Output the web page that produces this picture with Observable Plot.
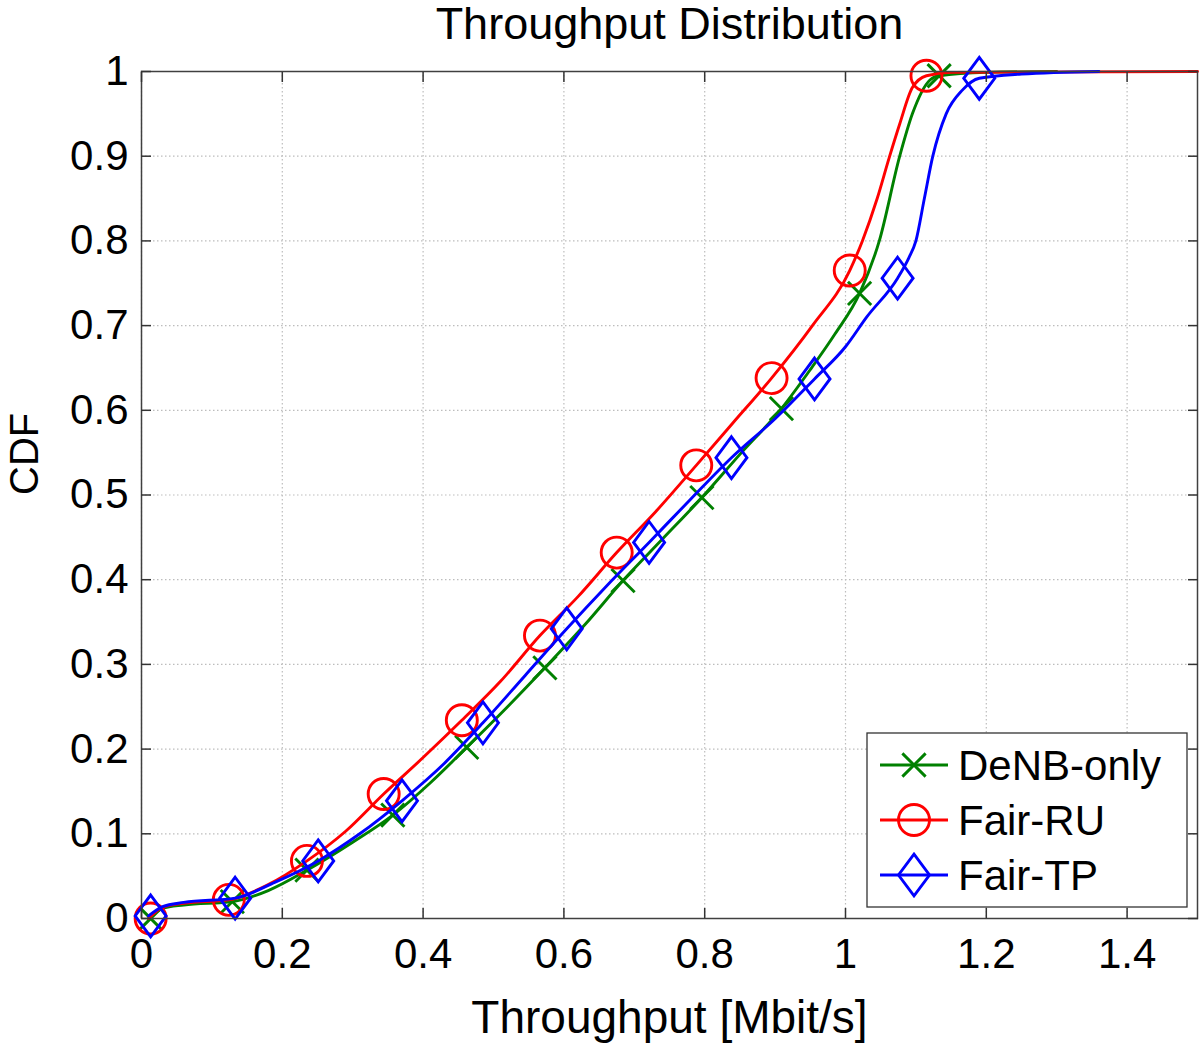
<!DOCTYPE html>
<html>
<head>
<meta charset="utf-8">
<script src="https://cdn.jsdelivr.net/npm/d3@7"></script>
<script src="https://cdn.jsdelivr.net/npm/@observablehq/plot@0.6"></script>
<style>
  html, body { margin: 0; padding: 0; background: #fff; }
</style>
</head>
<body>
<div id="chart"></div>
<script>
// ---- Data ----
const xTicks = [0, 0.2, 0.4, 0.6, 0.8, 1, 1.2, 1.4];
const yTicks = [0, 0.1, 0.2, 0.3, 0.4, 0.5, 0.6, 0.7, 0.8, 0.9, 1];
const seriesNames = ["DeNB-only", "Fair-RU", "Fair-TP"];
const seriesColors = ["#008000", "#ff0000", "#0000ff"];

// DeNB-only curve
const denbX = [0.01, 0.03, 0.06, 0.13, 0.18, 0.235, 0.3, 0.357, 0.41, 0.462, 0.52, 0.573, 0.63, 0.684, 0.74, 0.796, 0.85, 0.909, 0.95, 0.985, 1.02, 1.048, 1.077, 1.095, 1.12, 1.133, 1.2, 1.3];
const denbY = [0, 0.012, 0.016, 0.02, 0.033, 0.057, 0.09, 0.122, 0.16, 0.202, 0.25, 0.296, 0.347, 0.399, 0.448, 0.497, 0.548, 0.602, 0.648, 0.69, 0.738, 0.8, 0.9, 0.95, 0.99, 0.995, 0.999, 1];
const denbMarkX = [0.013, 0.129, 0.235, 0.357, 0.462, 0.573, 0.684, 0.796, 0.909, 1.02, 1.133];
const denbMarkY = [0, 0.02, 0.057, 0.122, 0.202, 0.296, 0.399, 0.497, 0.602, 0.738, 0.995];

// Fair-RU curve
const fairRuX = [0.01, 0.03, 0.06, 0.124, 0.18, 0.235, 0.29, 0.344, 0.4, 0.455, 0.51, 0.566, 0.62, 0.675, 0.73, 0.788, 0.84, 0.895, 0.953, 1.006, 1.024, 1.045, 1.062, 1.077, 1.095, 1.115, 1.15, 1.5];
const fairRuY = [0, 0.013, 0.018, 0.022, 0.04, 0.068, 0.103, 0.147, 0.19, 0.234, 0.28, 0.334, 0.38, 0.432, 0.48, 0.535, 0.585, 0.638, 0.7, 0.765, 0.8, 0.85, 0.898, 0.938, 0.981, 0.995, 0.999, 1];
const fairRuMarkX = [0.013, 0.124, 0.235, 0.344, 0.455, 0.566, 0.675, 0.788, 0.895, 1.006, 1.115];
const fairRuMarkY = [0, 0.022, 0.068, 0.147, 0.234, 0.334, 0.432, 0.535, 0.638, 0.765, 0.995];

// Fair-TP curve
const fairTpX = [0.01, 0.03, 0.06, 0.133, 0.19, 0.251, 0.31, 0.37, 0.43, 0.485, 0.545, 0.604, 0.66, 0.721, 0.78, 0.838, 0.9, 0.956, 1.0, 1.03, 1.074, 1.09, 1.1, 1.112, 1.124, 1.143, 1.166, 1.19, 1.25, 1.36];
const fairTpY = [0.003, 0.014, 0.019, 0.024, 0.043, 0.068, 0.1, 0.139, 0.183, 0.231, 0.287, 0.342, 0.392, 0.444, 0.495, 0.544, 0.59, 0.637, 0.675, 0.71, 0.756, 0.78, 0.8, 0.85, 0.9, 0.95, 0.978, 0.992, 0.997, 1];
const fairTpMarkX = [0.013, 0.133, 0.251, 0.37, 0.485, 0.604, 0.721, 0.838, 0.956, 1.074, 1.19];
const fairTpMarkY = [0.003, 0.024, 0.068, 0.139, 0.231, 0.342, 0.444, 0.544, 0.637, 0.756, 0.992];

// ---- Marker symbols (MATLAB-like) ----
const symTimes = { draw(ctx, size) { const r = Math.sqrt(size / Math.PI) * 0.75;
  ctx.moveTo(-r, -r); ctx.lineTo(r, r); ctx.moveTo(r, -r); ctx.lineTo(-r, r); } };
const symCircle = { draw(ctx, size) { const r = Math.sqrt(size / Math.PI);
  ctx.moveTo(r, 0); ctx.arc(0, 0, r, 0, 2 * Math.PI); } };
const symDiamond = { draw(ctx, size) { const r = Math.sqrt(size / Math.PI);
  const h = r * 1.35; ctx.moveTo(0, -h); ctx.lineTo(r, 0); ctx.lineTo(0, h); ctx.lineTo(-r, 0); ctx.closePath(); } };
const symbols = [symTimes, symCircle, symDiamond];

const series = [
  {x: denbX, y: denbY, mx: denbMarkX, my: denbMarkY},
  {x: fairRuX, y: fairRuY, mx: fairRuMarkX, my: fairRuMarkY},
  {x: fairTpX, y: fairTpY, mx: fairTpMarkX, my: fairTpMarkY}
];

const fmt = d => String(+d.toFixed(1));
const FONT = "'Liberation Sans', Arial, Helvetica, sans-serif";
const tickColor = "#333";

const marks = [
  Plot.gridX(xTicks, {stroke: "#bdbdbd", strokeOpacity: 1, strokeWidth: 1.2, strokeDasharray: "1.5,2.5"}),
  Plot.gridY(yTicks, {stroke: "#bdbdbd", strokeOpacity: 1, strokeWidth: 1.2, strokeDasharray: "1.5,2.5"})
];
series.forEach((s, i) => {
  const pts = d3.zip(s.x, s.y);
  const mpts = d3.zip(s.mx, s.my);
  marks.push(Plot.line(pts, {x: d => d[0], y: d => d[1], stroke: seriesColors[i], strokeWidth: 2.9, curve: "monotone-x"}));
  marks.push(Plot.dot(mpts, {x: d => d[0], y: d => d[1], stroke: seriesColors[i], strokeWidth: 2.9, fill: "none", r: 15.5, symbol: symbols[i]}));
});
marks.push(
  Plot.frame({stroke: "#404040", strokeWidth: 1.5}),
  // inward ticks on all four sides
  Plot.axisX(xTicks, {anchor: "bottom", tickSize: 10, dy: -10, text: null, stroke: tickColor, strokeWidth: 1.5}),
  Plot.axisX(xTicks, {anchor: "top", tickSize: 10, dy: 10, text: null, stroke: tickColor, strokeWidth: 1.5}),
  Plot.axisY(yTicks, {anchor: "left", tickSize: 10, dx: 10, text: null, stroke: tickColor, strokeWidth: 1.5}),
  Plot.axisY(yTicks, {anchor: "right", tickSize: 10, dx: -10, text: null, stroke: tickColor, strokeWidth: 1.5}),
  // tick labels
  Plot.axisX(xTicks, {anchor: "bottom", tickSize: 0, tickPadding: 20, tickFormat: fmt, label: null, fontSize: 42, fill: "#000"}),
  Plot.axisY(yTicks, {anchor: "left", tickSize: 0, tickPadding: 13, tickFormat: fmt, label: null, fontSize: 42, fill: "#000"}),
  // title and axis labels
  Plot.text(["Throughput Distribution"], {frameAnchor: "top", dy: -64, fontSize: 45, fill: "#000"}),
  Plot.text(["Throughput [Mbit/s]"], {frameAnchor: "bottom", dy: 114, fontSize: 46, fill: "#000"}),
  Plot.text(["CDF"], {frameAnchor: "left", dx: -116, rotate: -90, fontSize: 40, fill: "#000"})
);

const chart = Plot.plot({
  width: 1200,
  height: 1048,
  marginLeft: 141,
  marginRight: 3,
  marginTop: 71,
  marginBottom: 130,
  style: {fontFamily: FONT, background: "#fff", overflow: "visible"},
  x: {domain: [0, 1.5], axis: null},
  y: {domain: [0, 1], axis: null},
  marks
});
document.getElementById("chart").appendChild(chart);

// ---- Legend (inside the plot, lower right) ----
const svg = d3.select(chart);
const lg = svg.append("g").attr("font-family", FONT).attr("text-anchor", "start");
lg.append("rect").attr("x", 867).attr("y", 733).attr("width", 320).attr("height", 174)
  .attr("fill", "#fff").attr("stroke", "#333").attr("stroke-width", 1.3);
seriesNames.forEach((name, i) => {
  const cy = 765 + i * 55;
  lg.append("line").attr("x1", 880).attr("x2", 948).attr("y1", cy).attr("y2", cy)
    .attr("stroke", seriesColors[i]).attr("stroke-width", 2.9);
  lg.append("path").attr("transform", `translate(914,${cy})`)
    .attr("d", d3.symbol(symbols[i], Math.PI * 15.5 * 15.5)())
    .attr("fill", "none").attr("stroke", seriesColors[i]).attr("stroke-width", 2.9);
  lg.append("text").attr("x", 958).attr("y", cy).attr("dy", "0.35em")
    .attr("text-anchor", "start").attr("font-size", 42).attr("fill", "#000").text(name);
});
</script>
</body>
</html>
